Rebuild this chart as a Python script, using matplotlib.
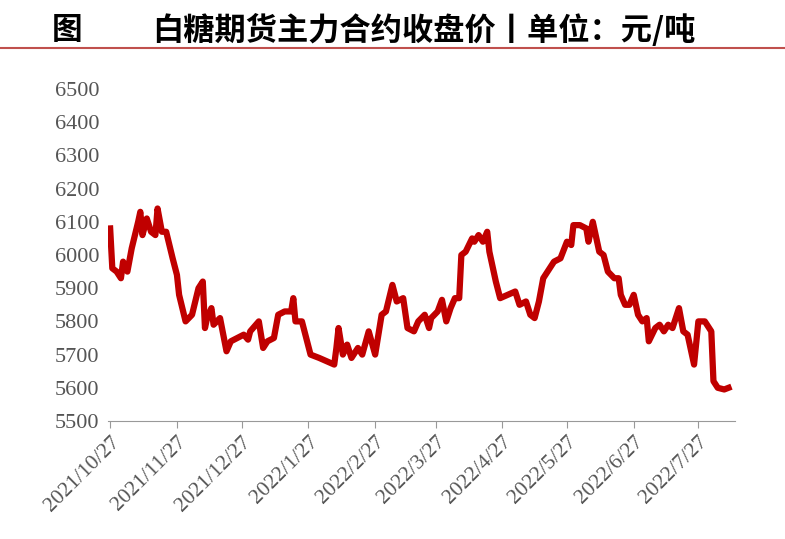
import matplotlib
matplotlib.use("Agg")
import matplotlib.pyplot as plt
import numpy as np
import datetime as dt

start_date = "2021-10-27"
day_offsets = [0,1,3,5,6,8,10,13,14,15,17,19,21,22,24,26,29,31,32,35,38,41,43,44,45,47,48,51,54,56,59,62,64,65,69,71,73,76,78,81,84,85,86,89,93,97,104,105,106,108,110,112,115,117,120,123,126,128,131,133,136,138,141,143,146,148,149,152,154,156,158,160,162,163,165,168,169,171,173,175,176,179,181,188,190,193,195,197,199,201,206,209,212,214,215,218,221,222,224,227,229,231,234,236,237,239,241,243,245,247,249,250,253,255,257,259,261,264,266,268,271,273,276,279,280,282,285,287]
prices = [6080,5960,5950,5930,5980,5950,6020,6100,6130,6060,6110,6070,6060,6140,6070,6070,5990,5940,5880,5800,5820,5900,5920,5780,5810,5840,5790,5810,5710,5740,5750,5760,5745,5770,5800,5720,5740,5750,5820,5830,5830,5870,5800,5800,5700,5690,5670,5720,5780,5700,5730,5690,5720,5700,5770,5700,5820,5830,5910,5860,5870,5780,5770,5800,5820,5780,5810,5830,5865,5800,5840,5870,5870,6000,6010,6050,6040,6060,6040,6070,6010,5920,5870,5890,5850,5860,5820,5810,5860,5930,5980,5990,6040,6030,6090,6090,6080,6040,6100,6010,6000,5950,5930,5930,5880,5850,5850,5880,5820,5800,5810,5740,5780,5790,5770,5790,5780,5840,5770,5760,5670,5800,5800,5770,5620,5600,5595,5600]
tick_labels = ["2021/10/27","2021/11/27","2021/12/27","2022/1/27","2022/2/27","2022/3/27","2022/4/27","2022/5/27","2022/6/27","2022/7/27"]
yticks = list(range(5500, 6501, 100))
title_prefix = "图"
title = "白糖期货主力合约收盘价丨单位：元/吨"

base = dt.date.fromisoformat(start_date)
x = np.array(day_offsets)
tick_pos = [(dt.date(*map(int, t.split("/"))) - base).days for t in tick_labels]

fig = plt.figure(figsize=(7.85, 5.39), dpi=100)
ax = fig.add_axes([108/785, 1-421/539, 627/785, 332/539])
ax.plot(x, prices, color="#C00000", lw=4.5, solid_joinstyle="round")
ax.set_ylim(5500, 6500)
ax.set_xlim(-1, 290)
ax.set_yticks(yticks)
ax.set_yticklabels([str(v) for v in yticks], family="Liberation Serif", fontsize=16, color="#555555")
ax.set_xticks(tick_pos)
ax.set_xticklabels(tick_labels, rotation=45, ha="right", rotation_mode="anchor",
                   family="Liberation Serif", fontsize=15.5, color="#555555")
for s in ["top", "right", "left"]:
    ax.spines[s].set_visible(False)
ax.spines["bottom"].set_color("#999999")
ax.tick_params(axis="y", length=0, pad=6)
ax.tick_params(axis="x", length=5, color="#999999", direction="out")

cjk = ["Noto Sans CJK SC", "DejaVu Sans"]
fig.text(52/785, 1-30/539, title_prefix, fontsize=22, fontweight="bold", va="center", ha="left", family=cjk)
fig.text(152/785, 1-30/539, title, fontsize=22.5, fontweight="bold", va="center", ha="left", family=cjk)
fig.add_artist(plt.Line2D([0, 1], [1-48/539, 1-48/539], color="#C0504D", lw=1.5))
fig.savefig("out.png", dpi=100)
